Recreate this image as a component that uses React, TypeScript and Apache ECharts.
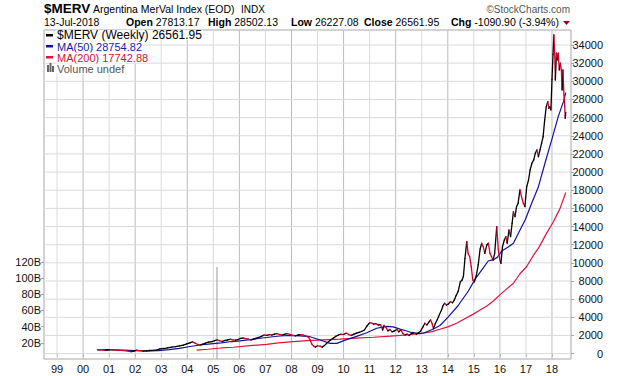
import React, { useEffect, useRef } from 'react';
import * as echarts from 'echarts';

// ---- data ----
const YEARS = [1999, 2000, 2001, 2002, 2003, 2004, 2005, 2006, 2007, 2008, 2009, 2010, 2011, 2012, 2013, 2014, 2015, 2016, 2017, 2018];
const PRICE_TICKS = [0, 2000, 4000, 6000, 8000, 10000, 12000, 14000, 16000, 18000, 20000, 22000, 24000, 26000, 28000, 30000, 32000, 34000];
const VOLUME_TICKS = [20, 40, 60, 80, 100, 120];

// weekly close of $MERV: [decimal year, value]
const PRICE: [number, number][] = [
  [2000.55, 430], [2000.65, 420], [2000.75, 400], [2000.85, 380], [2000.95, 410], [2001.05, 440], [2001.15, 420],
  [2001.3, 390], [2001.45, 360], [2001.6, 330], [2001.75, 250], [2001.85, 220], [2001.95, 280], [2002.05, 380],
  [2002.15, 330], [2002.3, 270], [2002.45, 300], [2002.55, 340], [2002.7, 350], [2002.85, 400], [2002.95, 520],
  [2003.1, 560], [2003.25, 640], [2003.4, 720], [2003.55, 760], [2003.7, 850], [2003.85, 940], [2003.98, 1060],
  [2004.1, 1180], [2004.2, 1290], [2004.3, 1150], [2004.4, 1000], [2004.5, 960], [2004.6, 1050], [2004.7, 1150],
  [2004.8, 1250], [2004.95, 1330], [2005.05, 1420], [2005.15, 1500], [2005.25, 1400], [2005.35, 1350], [2005.45, 1450],
  [2005.55, 1500], [2005.65, 1580], [2005.75, 1520], [2005.85, 1480], [2005.95, 1550], [2006.05, 1680], [2006.15, 1720],
  [2006.25, 1640], [2006.35, 1580], [2006.45, 1500], [2006.55, 1600], [2006.65, 1700], [2006.75, 1780], [2006.85, 1900],
  [2006.95, 2050], [2007.05, 2000], [2007.15, 2100], [2007.25, 2050], [2007.35, 2150], [2007.45, 2200], [2007.55, 2100],
  [2007.65, 2050], [2007.75, 2150], [2007.85, 2200], [2007.95, 2100], [2008.05, 2000], [2008.15, 1950], [2008.25, 2050],
  [2008.35, 2100], [2008.45, 2050], [2008.55, 1950], [2008.65, 1800], [2008.72, 1500], [2008.78, 1050], [2008.85, 830],
  [2008.92, 720], [2009.0, 860], [2009.1, 820], [2009.18, 700], [2009.26, 880], [2009.34, 1100], [2009.42, 1300],
  [2009.5, 1500], [2009.6, 1700], [2009.7, 1900], [2009.8, 2050], [2009.9, 2150], [2010.0, 2100], [2010.1, 2250],
  [2010.2, 2100], [2010.3, 2000], [2010.4, 2150], [2010.5, 2250], [2010.6, 2350], [2010.7, 2450], [2010.8, 2600],
  [2010.9, 3050], [2011.0, 3400], [2011.08, 3350], [2011.16, 3250], [2011.25, 3300], [2011.33, 3150], [2011.42, 3200],
  [2011.5, 2600], [2011.55, 3100], [2011.62, 2900], [2011.7, 2500], [2011.78, 2650], [2011.86, 2400], [2011.95, 2500],
  [2012.05, 2650], [2012.12, 2400], [2012.2, 2600], [2012.28, 2200], [2012.36, 2050], [2012.44, 2150], [2012.52, 2000],
  [2012.6, 2200], [2012.7, 2250], [2012.8, 2150], [2012.88, 2300], [2012.96, 2500], [2013.05, 2960], [2013.12, 3340],
  [2013.2, 3150], [2013.28, 3500], [2013.34, 3700], [2013.4, 3300], [2013.45, 2750], [2013.52, 3300], [2013.6, 3750],
  [2013.68, 4300], [2013.76, 4800], [2013.82, 5300], [2013.88, 5550], [2013.95, 5350], [2014.02, 5450], [2014.1, 5720],
  [2014.18, 5600], [2014.25, 5900], [2014.32, 6400], [2014.4, 6850], [2014.48, 7900], [2014.55, 8100], [2014.6, 8500],
  [2014.66, 10500], [2014.73, 12330], [2014.78, 11050], [2014.84, 10680], [2014.9, 9580], [2014.96, 8100], [2015.02, 7900],
  [2015.1, 8660], [2015.17, 9800], [2015.24, 11500], [2015.3, 12160], [2015.36, 11780], [2015.42, 11050], [2015.5, 11970],
  [2015.56, 12160], [2015.62, 11050], [2015.68, 10680], [2015.74, 10300], [2015.8, 11050], [2015.88, 13990], [2015.94, 11420],
  [2016.0, 10320], [2016.04, 9950], [2016.1, 11780], [2016.17, 12520], [2016.23, 12880], [2016.28, 12160], [2016.35, 13620],
  [2016.41, 12880], [2016.47, 14360], [2016.52, 15640], [2016.58, 15090], [2016.64, 16200], [2016.7, 16570], [2016.77, 18030],
  [2016.83, 17290], [2016.9, 16560], [2016.96, 16190], [2017.03, 18390], [2017.1, 19130], [2017.16, 20230], [2017.23, 20970],
  [2017.3, 21340], [2017.36, 22070], [2017.42, 22440], [2017.48, 21700], [2017.54, 22440], [2017.6, 23170], [2017.66, 23900],
  [2017.72, 25740], [2017.78, 27210], [2017.84, 27760], [2017.88, 27030], [2017.92, 27210], [2017.96, 26850], [2018.0, 30200],
  [2018.04, 33000], [2018.07, 35110], [2018.1, 33460], [2018.13, 30150], [2018.17, 33090], [2018.2, 32360], [2018.24, 33090],
  [2018.28, 31250], [2018.32, 31990], [2018.36, 31250], [2018.39, 29050], [2018.42, 31250], [2018.46, 28500], [2018.49, 27210],
  [2018.51, 25930], [2018.53, 26562],
];

const MA50: [number, number][] = [
  [2000.55, 420], [2001.0, 410], [2001.5, 390], [2002.0, 320], [2002.5, 300], [2002.9, 330], [2003.3, 430], [2003.7, 580],
  [2004.1, 780], [2004.5, 950], [2004.9, 1070], [2005.3, 1180], [2005.7, 1330], [2006.03, 1400], [2006.4, 1530], [2006.79, 1690],
  [2007.2, 1830], [2007.56, 1940], [2007.95, 2000], [2008.33, 1960], [2008.71, 1860], [2009.1, 1500], [2009.48, 1130],
  [2009.74, 1130], [2010.06, 1480], [2010.5, 1900], [2010.89, 2300], [2011.27, 2790], [2011.66, 3000], [2011.9, 2950],
  [2012.17, 2700], [2012.42, 2490], [2012.6, 2330], [2012.93, 2200], [2013.1, 2300], [2013.45, 2710], [2013.7, 3100],
  [2014.02, 4050], [2014.4, 5300], [2014.79, 6900], [2015.05, 8200], [2015.3, 9200], [2015.55, 10200], [2015.75, 10350],
  [2015.9, 10600], [2016.07, 11300], [2016.32, 11750], [2016.52, 12160], [2016.71, 13260], [2016.97, 14720], [2017.22, 16560],
  [2017.48, 18390], [2017.73, 20970], [2017.99, 23540], [2018.24, 26110], [2018.44, 27760], [2018.53, 28755],
];

const MA200: [number, number][] = [
  [2004.36, 380], [2004.8, 480], [2005.3, 620], [2005.77, 700], [2006.3, 860], [2007.05, 1020], [2007.5, 1180],
  [2007.94, 1300], [2008.6, 1420], [2009.2, 1520], [2009.86, 1600], [2010.5, 1700], [2011.14, 1800], [2011.8, 1930],
  [2012.42, 2050], [2013.05, 2250], [2013.4, 2420], [2013.7, 2680], [2014.0, 2950], [2014.34, 3340], [2014.6, 3750],
  [2014.98, 4350], [2015.24, 4800], [2015.5, 5250], [2015.75, 5800], [2016.01, 6500], [2016.25, 7100], [2016.52, 7750],
  [2016.77, 8800], [2017.03, 9600], [2017.28, 10800], [2017.5, 11700], [2017.8, 13300], [2018.05, 14500], [2018.31, 16000],
  [2018.53, 17743],
];

const VOLUME: [number, number][] = [[2005.14, 113.6]];

const TITLE_SYMBOL = '$MERV';
const TITLE_NAME = 'Argentina MerVal Index (EOD)';
const TITLE_EXCH = 'INDX';
const DATE_TEXT = '13-Jul-2018';
const QUOTE: [string, string, number][] = [
  ['Open', '27813.17', 126],
  ['High', '28502.13', 208],
  ['Low', '26227.08', 291],
  ['Close', '26561.95', 364],
  ['Chg', '-1090.90 (-3.94%)', 451],
];
const LEGEND_PRICE = '$MERV (Weekly) 26561.95';
const LEGEND_MA50 = 'MA(50) 28754.82';
const LEGEND_MA200 = 'MA(200) 17742.88';
const LEGEND_VOL = 'Volume undef';

const FONT = '"Liberation Sans", Arial, Helvetica, sans-serif';
const UP = '#000000';
const DOWN = '#d2002c';
const BLUE = '#12129a';
const RED = '#dc1440';
const GRID_LIGHT = '#dadada';
const GRID_DARK = '#bcbcbc';
const X_MIN = 1998.5;
const X_MAX = 2018.73;
const Y_MIN = -595;
const Y_MAX = 35653;

export default function App() {
  const ref = useRef<HTMLDivElement>(null);

  useEffect(() => {
    document.body.style.margin = '0';
    if (!ref.current) return;
    const chart = echarts.init(ref.current, null, { renderer: 'svg' });

    const graphic: any[] = [
      { type: 'text', x: 44, y: 8, style: { text: TITLE_SYMBOL, font: `bold 13.5px ${FONT}`, fill: '#000', verticalAlign: 'middle' } },
      { type: 'text', x: 93, y: 9, style: { text: TITLE_NAME, font: `10.5px ${FONT}`, fill: '#000', verticalAlign: 'middle' } },
      { type: 'text', x: 241, y: 9, style: { text: TITLE_EXCH, font: `10px ${FONT}`, fill: '#000', verticalAlign: 'middle' } },
      { type: 'text', x: 570, y: 9, style: { text: '\u00A9StockCharts.com', font: `10px ${FONT}`, fill: '#555', align: 'right', verticalAlign: 'middle' } },
      { type: 'text', x: 44, y: 22, style: { text: DATE_TEXT, font: `10.5px ${FONT}`, fill: '#000', verticalAlign: 'middle' } },
      ...QUOTE.map(([k, v, x]) => ({
        type: 'text', x, y: 22,
        style: {
          text: `{b|${k}} ${v}`,
          font: `10.5px ${FONT}`, fill: '#000', verticalAlign: 'middle',
          rich: { b: { fontWeight: 'bold', fontSize: 10.5, fontFamily: FONT, fill: '#000' } },
        },
      })),
      { type: 'polygon', shape: { points: [[563, 21], [570, 21], [566.5, 25]] }, style: { fill: '#8b0a2a' } },
      // legend
      { type: 'rect', shape: { x: 45, y: 31, width: 165, height: 9 }, style: { fill: '#fff' }, z: 90 },
      { type: 'rect', shape: { x: 46, y: 34, width: 7, height: 2.5 }, style: { fill: '#000' }, z: 100 },
      { type: 'text', x: 56, y: 35, z: 100, style: { text: LEGEND_PRICE, font: `12px ${FONT}`, lineHeight: 10, fill: '#000', verticalAlign: 'middle', backgroundColor: '#fff', padding: [0, 1, 0, 1] } },
      { type: 'rect', shape: { x: 46, y: 45, width: 7, height: 2.5 }, style: { fill: BLUE }, z: 100 },
      { type: 'text', x: 56, y: 46.5, z: 100, style: { text: LEGEND_MA50, font: `11px ${FONT}`, lineHeight: 10, fill: '#1a1a9a', verticalAlign: 'middle', backgroundColor: '#fff', padding: [0, 1, 0, 1] } },
      { type: 'rect', shape: { x: 46, y: 56, width: 7, height: 2.5 }, style: { fill: RED }, z: 100 },
      { type: 'text', x: 56, y: 57.5, z: 100, style: { text: LEGEND_MA200, font: `11px ${FONT}`, lineHeight: 10, fill: '#d4103c', verticalAlign: 'middle', backgroundColor: '#fff', padding: [0, 1, 0, 1] } },
      { type: 'rect', shape: { x: 47, y: 65, width: 2, height: 7 }, style: { fill: '#666' }, z: 100 },
      { type: 'rect', shape: { x: 49.5, y: 63, width: 2, height: 9 }, style: { fill: '#666' }, z: 100 },
      { type: 'rect', shape: { x: 52, y: 66, width: 2, height: 6 }, style: { fill: '#666' }, z: 100 },
      { type: 'text', x: 56, y: 68.5, z: 100, style: { text: LEGEND_VOL, font: `11px ${FONT}`, lineHeight: 10, fill: '#555', verticalAlign: 'middle', backgroundColor: '#fff', padding: [0, 1, 0, 1] } },
    ];

    // grid lines as plain line series (vertical per year, horizontal per price tick)
    const gridSeries: any[] = [
      ...YEARS.map((y) => ({
        type: 'line', data: [[y, Y_MIN], [y, Y_MAX]], xAxisIndex: 0, yAxisIndex: 0,
        showSymbol: false, symbol: 'none', silent: true, z: 0, animation: false,
        lineStyle: { color: y % 2 === 0 ? GRID_DARK : GRID_LIGHT, width: 1 },
      })),
      ...PRICE_TICKS.map((v) => ({
        type: 'line', data: [[X_MIN, v], [X_MAX, v]], xAxisIndex: 0, yAxisIndex: 0,
        showSymbol: false, symbol: 'none', silent: true, z: 0, animation: false,
        lineStyle: { color: GRID_LIGHT, width: 1 },
      })),
    ];

    const option: any = {
      animation: false,
      backgroundColor: '#fff',
      textStyle: { fontFamily: FONT },
      grid: { left: 44, right: 49, top: 30, bottom: 17, show: true, borderColor: '#a6a6a6', borderWidth: 1, backgroundColor: 'transparent' },
      xAxis: {
        type: 'value', min: X_MIN, max: X_MAX,
        axisLine: { show: false },
        splitLine: { show: false },
        axisTick: { show: true, customValues: YEARS, length: 3, lineStyle: { color: '#a6a6a6' } },
        axisLabel: {
          customValues: YEARS, margin: 4, color: '#111', fontSize: 11, fontFamily: FONT,
          formatter: (v: number) => String(Math.round(v) % 100).padStart(2, '0'),
        },
      },
      yAxis: [
        {
          type: 'value', position: 'right', min: Y_MIN, max: Y_MAX,
          axisLine: { show: false },
          splitLine: { show: false },
          axisTick: { show: true, customValues: PRICE_TICKS, length: 3, lineStyle: { color: '#a6a6a6' } },
          axisLabel: { customValues: PRICE_TICKS, align: 'right', margin: 32, color: '#111', fontSize: 11, fontFamily: FONT, formatter: (v: number) => String(Math.round(v)) },
        },
        {
          type: 'value', position: 'left', min: 0, max: 406,
          axisLine: { show: false },
          splitLine: { show: false },
          axisTick: { show: true, customValues: VOLUME_TICKS, length: 3, lineStyle: { color: '#a6a6a6' } },
          axisLabel: { customValues: VOLUME_TICKS, margin: 3, color: '#111', fontSize: 11, fontFamily: FONT, formatter: (v: number) => `${v}B` },
        },
      ],
      series: [
        ...gridSeries,
        {
          type: 'bar', data: VOLUME, xAxisIndex: 0, yAxisIndex: 1, barWidth: 1, silent: true, z: 1,
          itemStyle: { color: '#9a9a9a' },
        },
        {
          type: 'line', data: MA200, xAxisIndex: 0, yAxisIndex: 0, showSymbol: false, silent: true, z: 2,
          lineStyle: { color: RED, width: 1.2 },
        },
        {
          type: 'line', data: MA50, xAxisIndex: 0, yAxisIndex: 0, showSymbol: false, silent: true, z: 3,
          lineStyle: { color: BLUE, width: 1.2 },
        },
        {
          type: 'custom', data: PRICE, xAxisIndex: 0, yAxisIndex: 0, silent: true, z: 4,
          encode: { x: 0, y: 1 },
          renderItem: (params: any, api: any) => {
            const i = params.dataIndex;
            if (i === 0) return { type: 'group', children: [] };
            const prev = PRICE[i - 1];
            const cur = PRICE[i];
            const p0 = api.coord(prev);
            const p1 = api.coord(cur);
            return {
              type: 'line',
              shape: { x1: p0[0], y1: p0[1], x2: p1[0], y2: p1[1] },
              style: { stroke: cur[1] >= prev[1] ? UP : DOWN, lineWidth: 1.3, lineCap: 'round' },
            };
          },
        },
      ],
      graphic,
    };

    chart.setOption(option);
    return () => chart.dispose();
  }, []);

  return <div ref={ref} style={{ width: 620, height: 376 }} />;
}
